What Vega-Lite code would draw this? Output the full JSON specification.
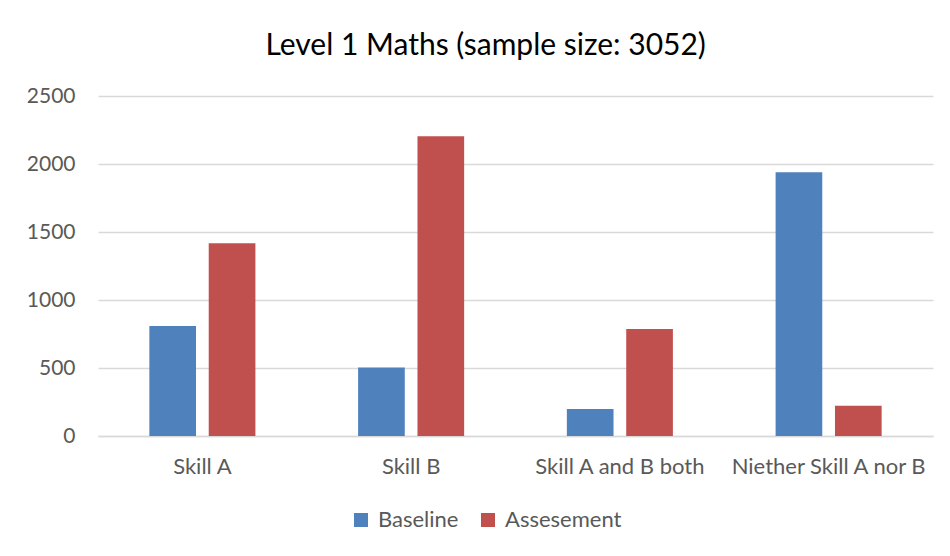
{
  "$schema": "https://vega.github.io/schema/vega-lite/v6.json",
  "width": 835,
  "height": 340,
  "autosize": {"type": "none"},
  "padding": {"left": 98, "top": 96, "right": 17, "bottom": 120},
  "background": "white",
  "title": {
    "text": "Level 1 Maths (sample size: 3052)",
    "font": "Lato",
    "fontSize": 30,
    "fontWeight": "normal",
    "color": "#000000",
    "anchor": "middle",
    "frame": "bounds",
    "offset": 24,
    "dx": 6
  },
  "data": {
    "values": [
      {"category": "Skill A", "series": "Baseline", "value": 809},
      {"category": "Skill A", "series": "Assesement", "value": 1417},
      {"category": "Skill B", "series": "Baseline", "value": 503},
      {"category": "Skill B", "series": "Assesement", "value": 2204},
      {"category": "Skill A and B both", "series": "Baseline", "value": 199},
      {"category": "Skill A and B both", "series": "Assesement", "value": 787},
      {"category": "Niether Skill A nor B", "series": "Baseline", "value": 1939},
      {"category": "Niether Skill A nor B", "series": "Assesement", "value": 223}
    ]
  },
  "mark": {"type": "bar"},
  "encoding": {
    "x": {
      "field": "category",
      "type": "nominal",
      "sort": ["Skill A", "Skill B", "Skill A and B both", "Niether Skill A nor B"],
      "scale": {"paddingInner": 0.492, "paddingOuter": 0.246},
      "axis": {
        "title": null,
        "labelAngle": 0,
        "ticks": false,
        "domainColor": "#d9d9d9",
        "domainWidth": 1.3,
        "labelFont": "Lato",
        "labelFontSize": 22,
        "labelLimit": 0,
        "labelColor": "#595959",
        "labelPadding": 20
      }
    },
    "xOffset": {
      "field": "series",
      "type": "nominal",
      "sort": ["Baseline", "Assesement"],
      "scale": {"paddingInner": 0.214, "paddingOuter": 0}
    },
    "y": {
      "field": "value",
      "type": "quantitative",
      "scale": {"domain": [0, 2500], "nice": false},
      "axis": {
        "title": null,
        "values": [0, 500, 1000, 1500, 2000, 2500],
        "format": "d",
        "ticks": false,
        "domain": false,
        "gridColor": "#d9d9d9",
        "gridWidth": 1.3,
        "labelFont": "Lato",
        "labelFontSize": 21,
        "labelColor": "#595959",
        "labelPadding": 23
      }
    },
    "color": {
      "field": "series",
      "type": "nominal",
      "sort": ["Baseline", "Assesement"],
      "scale": {"domain": ["Baseline", "Assesement"], "range": ["#4F81BD", "#C0504D"]},
      "legend": {
        "title": null,
        "orient": "none",
        "legendX": 252,
        "legendY": 413,
        "direction": "horizontal",
        "symbolType": "square",
        "symbolSize": 196,
        "symbolStrokeWidth": 0,
        "labelFont": "Lato",
        "labelFontSize": 22,
        "labelColor": "#595959",
        "labelOffset": 6,
        "columnPadding": 18
      }
    }
  },
  "config": {
    "view": {"stroke": null}
  }
}
